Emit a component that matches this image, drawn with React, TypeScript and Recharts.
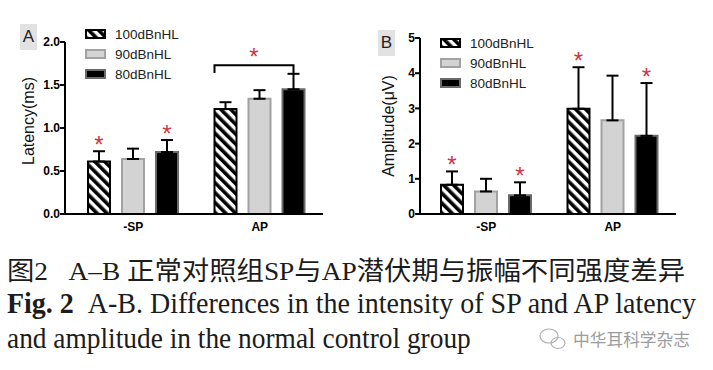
import React from "react";
import { BarChart, Bar, XAxis, YAxis, ErrorBar } from "recharts";

const categories = ["-SP", "AP"];
const seriesNames = ["100dBnHL", "90dBnHL", "80dBnHL"];

// Panel A: latency (ms)
const latency100 = [0.61, 1.22];
const latency90 = [0.64, 1.34];
const latency80 = [0.72, 1.45];
const latencySd100 = [0.12, 0.08];
const latencySd90 = [0.12, 0.1];
const latencySd80 = [0.14, 0.18];
const latencyStar100 = [true, false];
const latencyStar80 = [true, false];
const latencyTicks = [0, 0.5, 1, 1.5, 2];

// Panel B: amplitude (uV)
const amp100 = [0.83, 2.99];
const amp90 = [0.64, 2.66];
const amp80 = [0.53, 2.22];
const ampSd100 = [0.38, 1.18];
const ampSd90 = [0.36, 1.27];
const ampSd80 = [0.37, 1.5];
const ampStar100 = [true, true];
const ampStar80 = [true, true];
const ampTicks = [0, 1, 2, 3, 4, 5];

const STAR = "#cf3440";
const GREY_FILL = "#d3d3d3";
const GREY_EDGE = "#a2a2a2";
const BLACK_EDGE = "#6a6a6a";
const BAR_SIZE = 22;
const BAR_GAP = 12;

function rows(v100: number[], v90: number[], v80: number[], s100: number[], s90: number[], s80: number[]) {
  return categories.map((cat, i) => ({
    cat,
    v100: v100[i],
    v90: v90[i],
    v80: v80[i],
    e100: [0, s100[i]],
    e90: [0, s90[i]],
    e80: [0, s80[i]],
  }));
}

const latencyData = rows(latency100, latency90, latency80, latencySd100, latencySd90, latencySd80);
const ampData = rows(amp100, amp90, amp80, ampSd100, ampSd90, ampSd80);

function geom(p: any) {
  const vb = p.viewBox || {};
  return {
    x: Number(p.x ?? vb.x),
    y: Number(p.y ?? vb.y),
    width: Number(p.width ?? vb.width),
    height: Number(p.height ?? vb.height),
    index: p.index,
  };
}

// red asterisk just above the error cap
const starLabel = (vals: number[], sds: number[], flags: boolean[], bracket?: { at: number; level: number; leg: number }) =>
  (p: any) => {
    const { x, y, width, height, index } = geom(p);
    const ppu = height / vals[index];
    const cx = x + width / 2;
    const out: React.ReactNode[] = [];
    if (flags[index]) {
      const capY = y - sds[index] * ppu;
      out.push(
        <text key="s" x={cx} y={capY + 2} textAnchor="middle" fontSize={24} fill={STAR}>*</text>
      );
    }
    if (bracket && bracket.at === index) {
      const base = y + height;
      const yTop = base - bracket.level * ppu;
      const yLeg = base - bracket.leg * ppu;
      const left = x - 2 * (BAR_SIZE + BAR_GAP);
      out.push(
        <path key="b" d={`M${left},${yLeg}V${yTop}H${cx}V${yLeg}`} fill="none" stroke="#000" strokeWidth={2} />,
        <text key="bs" x={(left + cx) / 2} y={yTop} textAnchor="middle" fontSize={24} fill={STAR}>*</text>
      );
    }
    return <g>{out}</g>;
  };

const axisLine = { stroke: "#000", strokeWidth: 2 };
const tickStyle = { fill: "#000", fontSize: 12, fontWeight: "bold" as const };

function yLabel(text: string, dx: number, dy: number) {
  return (p: any) => {
    const vb = p.viewBox || { x: 0, y: 40, width: 65, height: 174 };
    const cx = vb.x + dx;
    const cy = vb.y + vb.height / 2 + dy;
    return (
      <text x={cx} y={cy} transform={`rotate(-90 ${cx} ${cy})`} textAnchor="middle" dominantBaseline="central" fontSize={16} fill="#111">
        {text}
      </text>
    );
  };
}

function Legend({ left, top }: { left: number; top: number }) {
  const fills = ["url(#hatch)", GREY_FILL, "#000"];
  const edges = ["#000", GREY_EDGE, BLACK_EDGE];
  return (
    <div style={{ position: "absolute", left, top }}>
      {seriesNames.map((n, i) => (
        <div key={n} style={{ position: "absolute", left: 0, top: i * 20 - 10, height: 20, display: "flex", alignItems: "center", whiteSpace: "nowrap" }}>
          <svg width={21} height={10} style={{ display: "block" }}>
            <rect x={1} y={1} width={19} height={8} fill={fills[i]} stroke={edges[i]} strokeWidth={2} />
          </svg>
          <span style={{ marginLeft: 9, fontSize: 13.5, color: "#222" }}>{n}</span>
        </div>
      ))}
    </div>
  );
}

function PanelTag({ letter, left, top }: { letter: string; left: number; top: number }) {
  return (
    <div style={{ position: "absolute", left, top, width: 17, height: 26, background: "#e2e2e2", fontSize: 17, lineHeight: "26px", textAlign: "center", color: "#222" }}>
      {letter}
    </div>
  );
}

export default function App() {
  return (
    <div style={{ position: "absolute", left: 0, top: 0, width: 713, height: 370, background: "#fff", overflow: "hidden", fontFamily: '"Liberation Sans", Arial, sans-serif' }}>
      <svg width={0} height={0} style={{ position: "absolute" }}>
        <defs>
          <pattern id="hatch" width={7} height={7} patternUnits="userSpaceOnUse" patternTransform="rotate(-45)">
            <rect width={7} height={7} fill="#fff" />
            <rect width={3.6} height={7} fill="#000" />
          </pattern>
        </defs>
      </svg>

      {/* A: latency */}
      <div style={{ position: "absolute", left: 0, top: 0 }}>
        <BarChart width={355} height={245} data={latencyData} margin={{ top: 42, right: 32, bottom: 0, left: 0 }} barGap={BAR_GAP}>
          <XAxis dataKey="cat" height={31} padding={{ left: 5, right: 0 }} axisLine={axisLine} tickLine={false} tick={tickStyle} />
          <YAxis
            domain={[0, 2]}
            ticks={latencyTicks}
            interval={0}
            tickFormatter={(v: number) => v.toFixed(1)}
            width={65}
            axisLine={axisLine}
            tickLine={axisLine}
            tickSize={5}
            tickMargin={0}
            tick={tickStyle}
            label={yLabel("Latency(ms)", 28, -7)}
          />
          <Bar dataKey="v100" fill="url(#hatch)" stroke="#000" strokeWidth={2} barSize={BAR_SIZE} isAnimationActive={false}
            label={starLabel(latency100, latencySd100, latencyStar100)}>
            <ErrorBar dataKey="e100" width={6} strokeWidth={2} stroke="#000" direction="y" isAnimationActive={false} />
          </Bar>
          <Bar dataKey="v90" fill={GREY_FILL} stroke={GREY_EDGE} strokeWidth={2} barSize={BAR_SIZE} isAnimationActive={false}>
            <ErrorBar dataKey="e90" width={6} strokeWidth={2} stroke="#000" direction="y" isAnimationActive={false} />
          </Bar>
          <Bar dataKey="v80" fill="#000" stroke={BLACK_EDGE} strokeWidth={2} barSize={BAR_SIZE} isAnimationActive={false}
            label={starLabel(latency80, latencySd80, latencyStar80, { at: 1, level: 1.73, leg: 1.64 })}>
            <ErrorBar dataKey="e80" width={6} strokeWidth={2} stroke="#000" direction="y" isAnimationActive={false} />
          </Bar>
        </BarChart>
      </div>
      <PanelTag letter="A" left={20} top={24} />
      <Legend left={85} top={34} />

      {/* B: amplitude */}
      <div style={{ position: "absolute", left: 355, top: 0 }}>
        <BarChart width={358} height={245} data={ampData} margin={{ top: 38, right: 37, bottom: 0, left: 0 }} barGap={BAR_GAP}>
          <XAxis dataKey="cat" height={31} padding={{ left: 3, right: 0 }} axisLine={axisLine} tickLine={false} tick={tickStyle} />
          <YAxis
            domain={[0, 5]}
            ticks={ampTicks}
            interval={0}
            width={65}
            axisLine={axisLine}
            tickLine={axisLine}
            tickSize={5}
            tickMargin={0}
            tick={tickStyle}
            label={yLabel("Amplitude(\u03bcV)", 33, 0)}
          />
          <Bar dataKey="v100" fill="url(#hatch)" stroke="#000" strokeWidth={2} barSize={BAR_SIZE} isAnimationActive={false}
            label={starLabel(amp100, ampSd100, ampStar100)}>
            <ErrorBar dataKey="e100" width={6} strokeWidth={2} stroke="#000" direction="y" isAnimationActive={false} />
          </Bar>
          <Bar dataKey="v90" fill={GREY_FILL} stroke={GREY_EDGE} strokeWidth={2} barSize={BAR_SIZE} isAnimationActive={false}>
            <ErrorBar dataKey="e90" width={6} strokeWidth={2} stroke="#000" direction="y" isAnimationActive={false} />
          </Bar>
          <Bar dataKey="v80" fill="#000" stroke={BLACK_EDGE} strokeWidth={2} barSize={BAR_SIZE} isAnimationActive={false}
            label={starLabel(amp80, ampSd80, ampStar80)}>
            <ErrorBar dataKey="e80" width={6} strokeWidth={2} stroke="#000" direction="y" isAnimationActive={false} />
          </Bar>
        </BarChart>
      </div>
      <PanelTag letter="B" left={378} top={30} />
      <Legend left={440} top={43} />

      {/* caption */}
      <svg width={713} height={370} style={{ position: "absolute", left: 0, top: 0, pointerEvents: "none" }}>
        <text x={7} y={280} fontSize={26} fill="#1c1c1c" textLength={678} lengthAdjust="spacingAndGlyphs"
          style={{ fontFamily: '"Liberation Serif", "Noto Sans CJK SC", serif' }}>
          {"图2\u00a0\u00a0\u00a0A–B 正常对照组SP与AP潜伏期与振幅不同强度差异"}
        </text>
        <g transform="translate(7 313) scale(0.88 1)">
          <text x={0} y={0} fontSize={29} fill="#1c1c1c" textLength={783} lengthAdjust="spacingAndGlyphs"
            style={{ fontFamily: '"Liberation Serif", serif' }}>
            <tspan fontWeight="bold">Fig. 2</tspan>{"\u00a0\u00a0A-B. Differences in the intensity of SP and AP latency"}
          </text>
        </g>
        <g transform="translate(7 348) scale(0.88 1)">
          <text x={0} y={0} fontSize={29} fill="#1c1c1c" textLength={527} lengthAdjust="spacingAndGlyphs"
            style={{ fontFamily: '"Liberation Serif", serif' }}>
            and amplitude in the normal control group
          </text>
        </g>
        <g fill="none" stroke="#b0b0b0" strokeWidth={1.2}>
          <ellipse cx={549} cy={336} rx={9} ry={7} />
          <ellipse cx={558} cy={343} rx={7} ry={5.5} />
        </g>
        <text x={573} y={346} fontSize={17} fill="#9c9c9c" textLength={117} lengthAdjust="spacingAndGlyphs"
          style={{ fontFamily: '"Noto Sans CJK SC", sans-serif' }}>
          中华耳科学杂志
        </text>
      </svg>
    </div>
  );
}
